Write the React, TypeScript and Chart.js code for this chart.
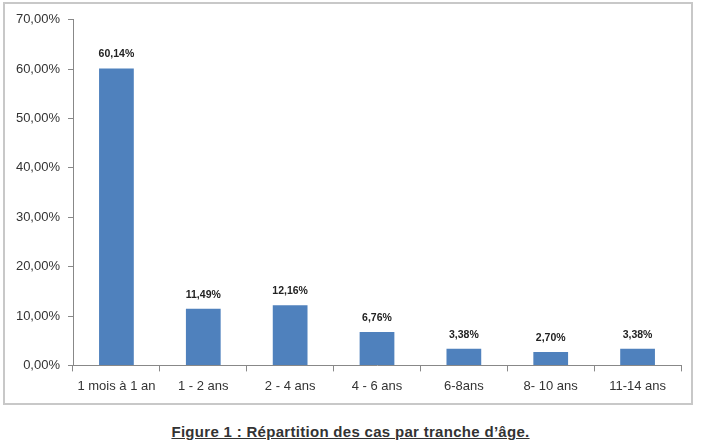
import React, { useEffect, useRef } from "react";
import { Chart, registerables } from "chart.js";

Chart.register(...registerables);

const categories = ["1 mois à 1 an", "1 - 2 ans", "2 - 4 ans", "4 - 6 ans", "6-8ans", "8- 10 ans", "11-14 ans"];
const values = [60.14, 11.49, 12.16, 6.76, 3.38, 2.7, 3.38];
const valueLabels = ["60,14%", "11,49%", "12,16%", "6,76%", "3,38%", "2,70%", "3,38%"];
const caption = "Figure 1 : Répartition des cas par tranche d’âge.";

const fmt = (v: number) => v.toFixed(2).replace(".", ",") + "%";

const dataLabelPlugin = {
  id: "dataLabels",
  afterDatasetsDraw(chart: any) {
    const ctx = chart.ctx;
    const meta = chart.getDatasetMeta(0);
    ctx.save();
    ctx.font = "bold 10.5px 'Liberation Sans', Arial, sans-serif";
    ctx.fillStyle = "#222";
    ctx.textAlign = "center";
    ctx.textBaseline = "middle";
    meta.data.forEach((el: any, i: number) => {
      ctx.fillText(valueLabels[i], el.x, el.y - 14);
    });
    ctx.restore();
  },
};

export default function App() {
  const ref = useRef<HTMLCanvasElement>(null);
  useEffect(() => {
    if (!ref.current) return;
    const chart = new Chart(ref.current, {
      type: "bar",
      data: {
        labels: categories,
        datasets: [
          {
            data: values,
            backgroundColor: "#4F81BD",
            categoryPercentage: 1,
            barPercentage: 0.4,
          },
        ],
      },
      options: {
        animation: false,
        responsive: false,
        maintainAspectRatio: false,
        layout: { padding: { left: 0, right: 10, top: 15, bottom: 2 } },
        plugins: { legend: { display: false }, tooltip: { enabled: false } },
        scales: {
          x: {
            grid: { display: true, drawOnChartArea: false, tickLength: 6, color: "#888" },
            border: { color: "#888" },
            ticks: { color: "#333", font: { size: 13, family: "'Liberation Sans', Arial, sans-serif" }, padding: 7 },
          },
          y: {
            min: 0,
            max: 70,
            afterFit: (s: any) => { s.width = 68; },
            grid: { display: true, drawOnChartArea: false, tickLength: 5, color: "#888" },
            border: { color: "#888" },
            ticks: {
              stepSize: 10,
              color: "#333",
              padding: 8,
              font: { size: 13, family: "'Liberation Sans', Arial, sans-serif" },
              callback: (v: any) => fmt(Number(v)),
            },
          },
        },
      },
      plugins: [dataLabelPlugin],
    });
    return () => chart.destroy();
  }, []);

  return (
    <div style={{ position: "fixed", left: 0, top: 0, width: 701, height: 442, background: "#fff" }}>
      <div
        style={{
          position: "absolute",
          left: 3,
          top: 2,
          width: 690,
          height: 403,
          border: "2px solid #c8c8c8",
          boxSizing: "border-box",
        }}
      >
        <canvas ref={ref} width={686} height={399} style={{ display: "block" }} />
      </div>
      <div
        style={{
          position: "absolute",
          left: 0,
          width: 701,
          top: 423,
          textAlign: "center",
          font: "bold 15px 'Liberation Sans', Arial, sans-serif",
          color: "#333",
          textDecoration: "underline",
          letterSpacing: "0.3px",
        }}
      >
        {caption}
      </div>
    </div>
  );
}
